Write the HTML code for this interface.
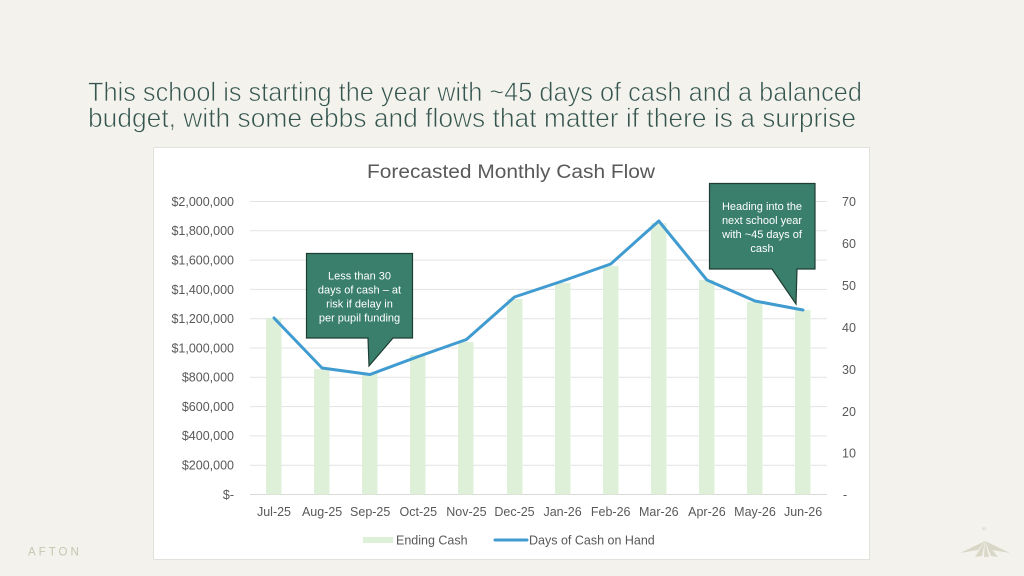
<!DOCTYPE html>
<html><head><meta charset="utf-8"><style>
html,body{margin:0;padding:0;background:#f3f2ed;}
svg{display:block;}
</style></head><body>
<svg width="1024" height="576" viewBox="0 0 1024 576" xmlns="http://www.w3.org/2000/svg" font-family="Liberation Sans, Arial, sans-serif">
<rect x="0" y="0" width="1024" height="576" fill="#f3f2ed"/>
<g fill="#35554f" stroke="#f3f2ed" stroke-width="0.7" font-size="26.5">
<text x="88" y="101" textLength="774" lengthAdjust="spacingAndGlyphs">This school is starting the year with ~45 days of cash and a balanced</text>
<text x="88" y="127" textLength="768" lengthAdjust="spacingAndGlyphs">budget, with some ebbs and flows that matter if there is a surprise</text>
</g>
<rect x="153.5" y="147.5" width="716" height="412" fill="#ffffff" stroke="#e2e2dc" stroke-width="1"/>
<text x="511" y="178" font-size="19" fill="#595959" text-anchor="middle" textLength="288" lengthAdjust="spacingAndGlyphs">Forecasted Monthly  Cash Flow</text>
<g stroke="#e3e3e3" stroke-width="1">
<line x1="250" x2="827" y1="201.5" y2="201.5"/>
<line x1="250" x2="827" y1="230.8" y2="230.8"/>
<line x1="250" x2="827" y1="260.1" y2="260.1"/>
<line x1="250" x2="827" y1="289.4" y2="289.4"/>
<line x1="250" x2="827" y1="318.7" y2="318.7"/>
<line x1="250" x2="827" y1="348" y2="348"/>
<line x1="250" x2="827" y1="377.3" y2="377.3"/>
<line x1="250" x2="827" y1="406.6" y2="406.6"/>
<line x1="250" x2="827" y1="435.9" y2="435.9"/>
<line x1="250" x2="827" y1="465.2" y2="465.2"/>
<line x1="250" x2="827" y1="494.5" y2="494.5" stroke="#d9d9d9"/>
</g>
<g font-size="12.5" fill="#595959" text-anchor="end">
<text x="234" y="206">$2,000,000</text>
<text x="234" y="235">$1,800,000</text>
<text x="234" y="264.5">$1,600,000</text>
<text x="234" y="294">$1,400,000</text>
<text x="234" y="323">$1,200,000</text>
<text x="234" y="352.5">$1,000,000</text>
<text x="234" y="381.5">$800,000</text>
<text x="234" y="411">$600,000</text>
<text x="234" y="440">$400,000</text>
<text x="234" y="469.5">$200,000</text>
<text x="234" y="499">$-</text>
</g>
<g font-size="12.5" fill="#595959">
<text x="842" y="206">70</text>
<text x="842" y="248">60</text>
<text x="842" y="290">50</text>
<text x="842" y="332">40</text>
<text x="842" y="374">30</text>
<text x="842" y="416">20</text>
<text x="842" y="457.5">10</text>
<text x="843" y="499">-</text>
</g>
<g fill="#dff0d8">
<rect x="266" y="318" width="15.5" height="176.5"/>
<rect x="314" y="369" width="15.5" height="125.5"/>
<rect x="362" y="373" width="15.5" height="121.5"/>
<rect x="410" y="355" width="15.5" height="139.5"/>
<rect x="458" y="342" width="15.5" height="152.5"/>
<rect x="507" y="299" width="15.5" height="195.5"/>
<rect x="555" y="283" width="15.5" height="211.5"/>
<rect x="603" y="266" width="15.5" height="228.5"/>
<rect x="651" y="223" width="15.5" height="271.5"/>
<rect x="699" y="280" width="15.5" height="214.5"/>
<rect x="747" y="302" width="15.5" height="192.5"/>
<rect x="795" y="310" width="15.5" height="184.5"/>
</g>
<polyline fill="none" stroke="#3f9bd0" stroke-width="3" stroke-linejoin="round" stroke-linecap="round"
points="274,318 322,368 370,374.5 418.3,356.5 466.4,339.5 514.5,297 562.6,281 610.7,264 658.8,221 706.9,280 755,301 803,310"/>
<g font-size="12.5" fill="#595959" text-anchor="middle">
<text x="274" y="516">Jul-25</text>
<text x="322.1" y="516">Aug-25</text>
<text x="370.2" y="516">Sep-25</text>
<text x="418.3" y="516">Oct-25</text>
<text x="466.4" y="516">Nov-25</text>
<text x="514.5" y="516">Dec-25</text>
<text x="562.6" y="516">Jan-26</text>
<text x="610.7" y="516">Feb-26</text>
<text x="658.8" y="516">Mar-26</text>
<text x="706.9" y="516">Apr-26</text>
<text x="755" y="516">May-26</text>
<text x="803.1" y="516">Jun-26</text>
</g>
<rect x="363" y="537" width="30" height="6" fill="#dff0d8"/>
<text x="396" y="544.5" font-size="12.5" fill="#595959">Ending Cash</text>
<line x1="495" y1="540" x2="527" y2="540" stroke="#3f9bd0" stroke-width="3" stroke-linecap="round"/>
<text x="529" y="544.5" font-size="12.5" fill="#595959">Days of Cash on Hand</text>
<path d="M306.5,253.5 H412.5 V338 H393 L369,366 L368,338 H306.5 Z" fill="#397f6b" stroke="#1e3d33" stroke-width="1.2"/>
<g font-size="11" fill="#ffffff" text-anchor="middle">
<text x="359.5" y="279.5">Less than 30</text>
<text x="359.5" y="293.5">days of cash – at</text>
<text x="359.5" y="307.5">risk if delay in</text>
<text x="359.5" y="321.5">per pupil funding</text>
</g>
<path d="M709.5,183.5 H815 V269 H797 L796,304 L772,269 H709.5 Z" fill="#397f6b" stroke="#1e3d33" stroke-width="1.2"/>
<g font-size="11" fill="#ffffff" text-anchor="middle">
<text x="762" y="210">Heading into the</text>
<text x="762" y="224">next school year</text>
<text x="762" y="238">with ~45 days of</text>
<text x="762" y="252">cash</text>
</g>
<text x="28" y="555.5" font-size="11.5" fill="#c6c6b0" letter-spacing="3">AFTON</text>
<text x="984" y="530" font-size="4" fill="#c9c9b4" text-anchor="middle">33</text>
<g fill="#d9d8c8">
<polygon points="985,541 960,553 978,550"/>
<polygon points="985,541 975,557 982,556"/>
<polygon points="985,541 984,557 989,557"/>
<polygon points="985,541 991,556 998,557"/>
<polygon points="985,541 1010,553 992,550"/>
</g>
</svg>
</body></html>
